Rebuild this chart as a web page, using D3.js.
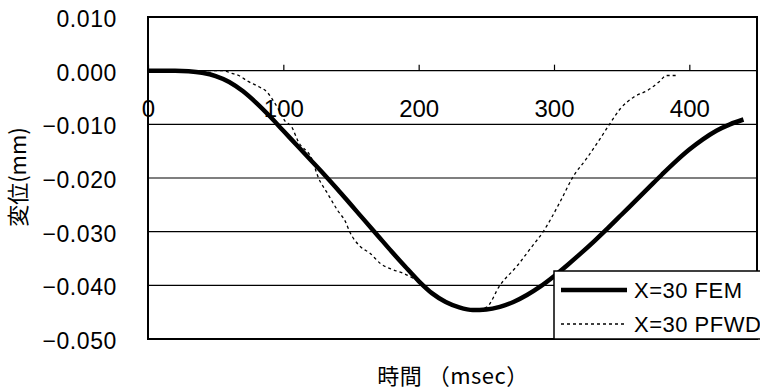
<!DOCTYPE html>
<html lang="ja">

<head>
    <meta charset="UTF-8">
    <title>変位</title>
    <script src="https://d3js.org/d3.v7.min.js"></script>
    <style>
        body {
            margin: 0;
            background: #ffffff;
        }

        #chart text {
            fill: #000000;
        }

        .num {
            font-family: "Liberation Sans", Arial, sans-serif;
        }

        .jp {
            font-family: "Noto Sans CJK JP", sans-serif;
        }
    </style>
</head>

<body>
    <div id="chart"></div>
    <script>
        // X=30 FEM (msec, mm)
        const femTime = [0, 10, 20, 30, 40, 50, 60, 70, 80, 90, 100, 110, 120, 130, 140, 150, 160, 170, 180,
            190, 200, 210, 220, 230, 240, 250, 260, 270, 280, 290, 300, 310, 320, 330, 340, 350, 360, 370, 380,
            390, 400, 410, 420, 430, 440];
        const femDisp = [0, 0, 0, -0.0001, -0.0004, -0.0010, -0.0021, -0.0038, -0.0060, -0.0085, -0.0112,
            -0.0139, -0.0166, -0.0193, -0.0221, -0.0250, -0.0279, -0.0308, -0.0337, -0.0365, -0.0392, -0.0415,
            -0.0431, -0.0441, -0.0446, -0.0445, -0.0440, -0.0431, -0.0418, -0.0402, -0.0383, -0.0362, -0.0340,
            -0.0317, -0.0293, -0.0268, -0.0243, -0.0218, -0.0193, -0.0169, -0.0147, -0.0128, -0.0112, -0.0100,
            -0.0091];

        // X=30 PFWD (msec, mm)
        const pfwdTime = [0, 55, 62, 67, 74, 82, 88, 91, 96, 101, 106, 111, 121, 126, 132, 140, 146, 149, 157,
            164, 172, 179, 189, 196, 205, 210, 220, 230, 240, 250, 260, 273, 283, 292, 305, 314, 324, 334,
            341, 349, 359, 369, 378, 383, 392];
        const pfwdDisp = [0, 0, -0.0005, -0.0009, -0.0020, -0.0030, -0.0040, -0.0050, -0.0070, -0.0093,
            -0.0104, -0.0132, -0.0164, -0.0200, -0.0226, -0.0260, -0.0282, -0.0300, -0.0328, -0.0340, -0.0360,
            -0.0369, -0.0378, -0.0387, -0.0402, -0.0415, -0.0431, -0.0441, -0.0446, -0.0441, -0.0400,
            -0.0363, -0.0330, -0.0300, -0.0242, -0.0198, -0.0164, -0.0127, -0.0100, -0.0071, -0.0049, -0.0037,
            -0.0020, -0.0009, -0.0009];

        const xTicks = [0, 100, 200, 300, 400];
        const yTicks = [0.01, 0, -0.01, -0.02, -0.03, -0.04, -0.05];
        const seriesNames = ["X=30 FEM", "X=30 PFWD"];

        const width = 760;
        const height = 390;
        const margin = { top: 17, right: 3, bottom: 51, left: 148 };

        const svg = d3.select("#chart")
            .append("svg")
            .attr("width", width)
            .attr("height", height);

        const x = d3.scaleLinear()
            .domain([0, 450])
            .range([margin.left, width - margin.right]);

        const y = d3.scaleLinear()
            .domain([-0.05, 0.01])
            .range([height - margin.bottom, margin.top]);

        const fmt = d3.format(".3f");

        // horizontal grid
        svg.append("g")
            .selectAll("line")
            .data(yTicks)
            .join("line")
            .attr("x1", x(0))
            .attr("x2", x(450))
            .attr("y1", d => y(d))
            .attr("y2", d => y(d))
            .attr("stroke", "#000")
            .attr("stroke-width", 1.1);

        // y labels
        svg.append("g")
            .attr("class", "num")
            .selectAll("text")
            .data(yTicks)
            .join("text")
            .attr("x", 117)
            .attr("y", d => y(d) + 10)
            .attr("text-anchor", "end")
            .attr("font-size", "23px")
            .attr("letter-spacing", "0.6px")
            .text(d => fmt(d));

        // x axis sits on the zero line, ticks pointing up
        const xAxis = svg.append("g")
            .attr("transform", `translate(0, ${y(0)})`)
            .call(d3.axisBottom(x).tickValues(xTicks).tickSize(-6).tickPadding(29).tickFormat(d3.format("d")));
        xAxis.select(".domain").remove();
        xAxis.selectAll("line").attr("stroke", "#000").attr("stroke-width", 1.2);
        xAxis.selectAll("text")
            .attr("class", "num")
            .attr("font-size", "24px")
            .style("fill", "#000");

        // frame
        svg.append("rect")
            .attr("x", x(0))
            .attr("y", y(0.01))
            .attr("width", x(450) - x(0))
            .attr("height", y(-0.05) - y(0.01))
            .attr("fill", "none")
            .attr("stroke", "#000")
            .attr("stroke-width", 2);

        const femData = femTime.map((t, i) => [t, femDisp[i]]);
        const pfwdData = pfwdTime.map((t, i) => [t, pfwdDisp[i]]);

        const line = d3.line()
            .x(d => x(d[0]))
            .y(d => y(d[1]))
            .curve(d3.curveMonotoneX);

        svg.append("path")
            .datum(pfwdData)
            .attr("d", line)
            .attr("fill", "none")
            .attr("stroke", "#000")
            .attr("stroke-width", 1.3)
            .attr("stroke-dasharray", "3,3");

        svg.append("path")
            .datum(femData)
            .attr("d", line)
            .attr("fill", "none")
            .attr("stroke", "#000")
            .attr("stroke-width", 4.5)
            .attr("stroke-linejoin", "round");

        // legend
        const legend = svg.append("g");
        legend.append("rect")
            .attr("x", 554)
            .attr("y", 271)
            .attr("width", 230)
            .attr("height", y(-0.05) - 271)
            .attr("fill", "#fff")
            .attr("stroke", "#000")
            .attr("stroke-width", 1.5);

        const legendRows = [
            { name: seriesNames[0], w: 4.5, dash: null, yy: 290 },
            { name: seriesNames[1], w: 1.3, dash: "3,3", yy: 324 }
        ];

        legendRows.forEach(function (r) {
            legend.append("line")
                .attr("x1", 561)
                .attr("x2", 627)
                .attr("y1", r.yy)
                .attr("y2", r.yy)
                .attr("stroke", "#000")
                .attr("stroke-width", r.w)
                .attr("stroke-dasharray", r.dash);
            legend.append("text")
                .attr("class", "num")
                .attr("x", 634)
                .attr("y", r.yy + 8)
                .attr("font-size", "22px")
                .attr("letter-spacing", "0.5px")
                .text(r.name);
        });

        // axis titles
        svg.append("text")
            .attr("class", "jp")
            .attr("transform", "translate(26, 177) rotate(-90)")
            .attr("text-anchor", "middle")
            .attr("font-size", "22px")
            .text("変位(mm)");

        svg.append("text")
            .attr("class", "jp")
            .attr("x", 453)
            .attr("y", 384)
            .attr("text-anchor", "middle")
            .attr("font-size", "22px")
            .attr("letter-spacing", "0.5px")
            .text("時間 （msec）");
    </script>

</body>

</html>
